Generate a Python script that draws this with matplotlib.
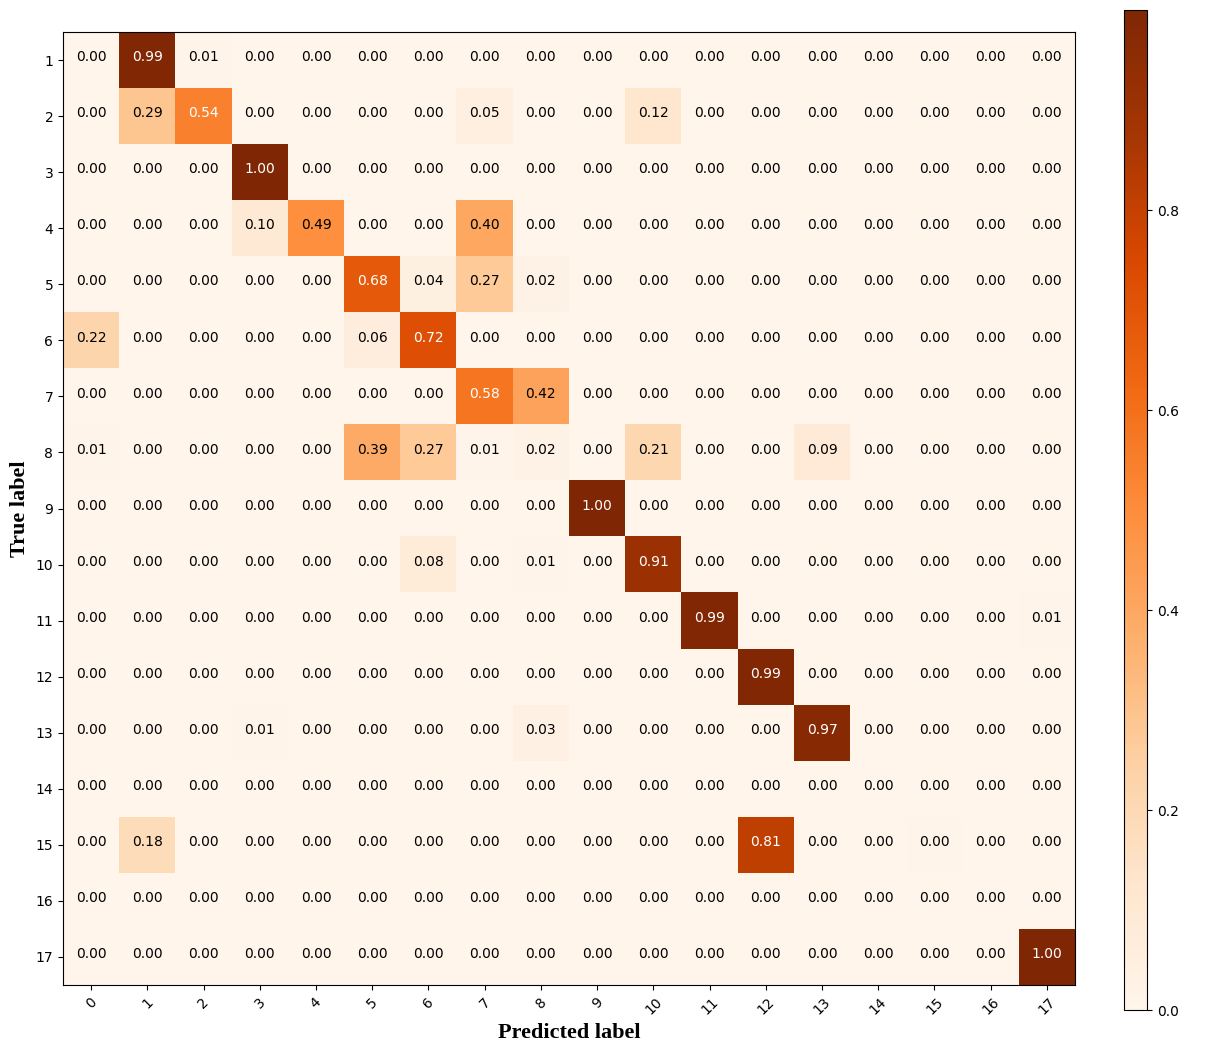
import numpy as np
import matplotlib
matplotlib.use("Agg")
import matplotlib.pyplot as plt

# Confusion matrix values (rows: true labels 1..17, cols: predicted 0..17)
true_labels = [str(i) for i in range(1, 18)]
pred_labels = [str(i) for i in range(0, 18)]

cm = np.array([
    [0.00, 0.99, 0.01, 0.00, 0.00, 0.00, 0.00, 0.00, 0.00, 0.00, 0.00, 0.00, 0.00, 0.00, 0.00, 0.00, 0.00, 0.00],
    [0.00, 0.29, 0.54, 0.00, 0.00, 0.00, 0.00, 0.05, 0.00, 0.00, 0.12, 0.00, 0.00, 0.00, 0.00, 0.00, 0.00, 0.00],
    [0.00, 0.00, 0.00, 1.00, 0.00, 0.00, 0.00, 0.00, 0.00, 0.00, 0.00, 0.00, 0.00, 0.00, 0.00, 0.00, 0.00, 0.00],
    [0.00, 0.00, 0.00, 0.10, 0.49, 0.00, 0.00, 0.40, 0.00, 0.00, 0.00, 0.00, 0.00, 0.00, 0.00, 0.00, 0.00, 0.00],
    [0.00, 0.00, 0.00, 0.00, 0.00, 0.68, 0.04, 0.27, 0.02, 0.00, 0.00, 0.00, 0.00, 0.00, 0.00, 0.00, 0.00, 0.00],
    [0.22, 0.00, 0.00, 0.00, 0.00, 0.06, 0.72, 0.00, 0.00, 0.00, 0.00, 0.00, 0.00, 0.00, 0.00, 0.00, 0.00, 0.00],
    [0.00, 0.00, 0.00, 0.00, 0.00, 0.00, 0.00, 0.58, 0.42, 0.00, 0.00, 0.00, 0.00, 0.00, 0.00, 0.00, 0.00, 0.00],
    [0.01, 0.00, 0.00, 0.00, 0.00, 0.39, 0.27, 0.01, 0.02, 0.00, 0.21, 0.00, 0.00, 0.09, 0.00, 0.00, 0.00, 0.00],
    [0.00, 0.00, 0.00, 0.00, 0.00, 0.00, 0.00, 0.00, 0.00, 1.00, 0.00, 0.00, 0.00, 0.00, 0.00, 0.00, 0.00, 0.00],
    [0.00, 0.00, 0.00, 0.00, 0.00, 0.00, 0.08, 0.00, 0.01, 0.00, 0.91, 0.00, 0.00, 0.00, 0.00, 0.00, 0.00, 0.00],
    [0.00, 0.00, 0.00, 0.00, 0.00, 0.00, 0.00, 0.00, 0.00, 0.00, 0.00, 0.99, 0.00, 0.00, 0.00, 0.00, 0.00, 0.01],
    [0.00, 0.00, 0.00, 0.00, 0.00, 0.00, 0.00, 0.00, 0.00, 0.00, 0.00, 0.00, 0.99, 0.00, 0.00, 0.00, 0.00, 0.00],
    [0.00, 0.00, 0.00, 0.01, 0.00, 0.00, 0.00, 0.00, 0.03, 0.00, 0.00, 0.00, 0.00, 0.97, 0.00, 0.00, 0.00, 0.00],
    [0.00, 0.00, 0.00, 0.00, 0.00, 0.00, 0.00, 0.00, 0.00, 0.00, 0.00, 0.00, 0.00, 0.00, 0.00, 0.00, 0.00, 0.00],
    [0.00, 0.18, 0.00, 0.00, 0.00, 0.00, 0.00, 0.00, 0.00, 0.00, 0.00, 0.00, 0.81, 0.00, 0.00, 0.004, 0.00, 0.00],
    [0.00, 0.00, 0.00, 0.00, 0.00, 0.00, 0.00, 0.00, 0.00, 0.00, 0.00, 0.00, 0.00, 0.00, 0.00, 0.00, 0.00, 0.00],
    [0.00, 0.00, 0.00, 0.00, 0.00, 0.00, 0.00, 0.00, 0.00, 0.00, 0.00, 0.00, 0.00, 0.00, 0.00, 0.00, 0.00, 1.00],
])

fig = plt.figure(figsize=(12.15, 10.54), dpi=100)
ax = fig.add_axes([0.0519, 0.0655, 0.8329, 0.9041])
cax = fig.add_axes([0.9251, 0.0417, 0.0189, 0.9488])

im = ax.imshow(cm, cmap="Oranges", vmin=0, vmax=1.0, aspect="auto",
               interpolation="nearest")
cb = fig.colorbar(im, cax=cax)
cb.set_ticks([0.0, 0.2, 0.4, 0.6, 0.8])

ax.set_xticks(np.arange(len(pred_labels)))
ax.set_xticklabels(pred_labels, rotation=45)
ax.set_yticks(np.arange(len(true_labels)))
ax.set_yticklabels(true_labels)

# cell labels, white on dark cells
thresh = cm.max() / 2.0
for i in range(cm.shape[0]):
    for j in range(cm.shape[1]):
        ax.text(j, i - 0.05, format(cm[i, j], ".2f"), ha="center", va="center",
                fontsize=10, color="white" if cm[i, j] > thresh else "black")

ax.set_xlabel("Predicted label", fontsize=16, fontweight="bold",
              family="Liberation Serif")
ax.set_ylabel("True label", fontsize=16, fontweight="bold",
              family="Liberation Serif")

plt.savefig("out.png", dpi=100)
